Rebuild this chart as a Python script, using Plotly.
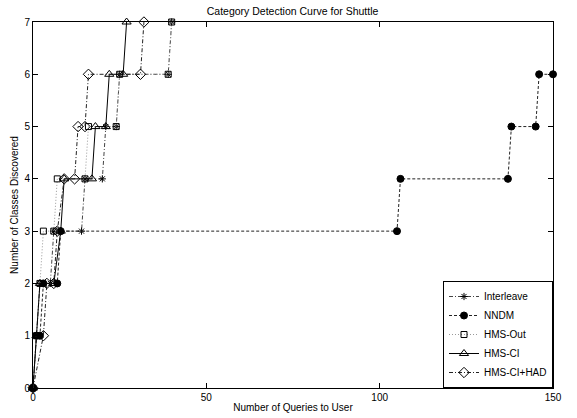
import plotly.graph_objects as go

title = "Category Detection Curve for Shuttle"
x_label = "Number of Queries to User"
y_label = "Number of Classes Discovered"

interleave_x = [0, 1, 2, 5, 6, 14, 15, 20, 21, 24, 25, 39, 40]
interleave_y = [0, 1, 2, 2, 3, 3, 4, 4, 5, 5, 6, 6, 7]

nndm_x = [0, 1, 2, 3, 7, 8, 105, 106, 137, 138, 145, 146, 150]
nndm_y = [0, 1, 1, 2, 2, 3, 3, 4, 4, 5, 5, 6, 6]

hms_out_x = [0, 1, 2, 3, 6, 7, 15, 16, 24, 25, 39, 40]
hms_out_y = [0, 1, 2, 3, 3, 4, 4, 5, 5, 6, 6, 7]

hms_ci_x = [0, 1, 2, 6, 8, 9, 17, 18, 21, 22, 26, 27]
hms_ci_y = [0, 1, 2, 2, 3, 4, 4, 5, 5, 6, 6, 7]

hms_ci_had_x = [0, 3, 4, 6, 7, 9, 12, 13, 15, 16, 31, 32]
hms_ci_had_y = [0, 1, 2, 2, 3, 4, 4, 5, 5, 6, 6, 7]

x_ticks = [0, 50, 100, 150]
y_ticks = [0, 1, 2, 3, 4, 5, 6, 7]

series = [
    ("Interleave", interleave_x, interleave_y, "asterisk-open", "4px,2px,1px,2px", "#444444", 6),
    ("NNDM", nndm_x, nndm_y, "circle", "3px,2px", "#222222", 7),
    ("HMS-Out", hms_out_x, hms_out_y, "square-open", "1px,2px", "#999999", 6),
    ("HMS-CI", hms_ci_x, hms_ci_y, "triangle-up-open", "solid", "black", 8),
    ("HMS-CI+HAD", hms_ci_had_x, hms_ci_had_y, "diamond-open", "4px,2px,1px,2px", "#222222", 8),
]

FONT = "Liberation Sans, Arial"

fig = go.Figure()
for name, xs, ys, sym, dash, lc, ms in series:
    fig.add_trace(go.Scatter(
        x=xs, y=ys, name=name, mode="lines+markers",
        line=dict(color=lc, width=1, dash=dash),
        marker=dict(symbol=sym, size=ms, color="black",
                    line=dict(color="black", width=1)),
        cliponaxis=False,
    ))

axis_common = dict(
    showgrid=False, zeroline=False, showline=True, linecolor="black",
    linewidth=1, mirror="ticks", ticks="inside", ticklen=5,
    tickcolor="black", automargin=False,
    tickfont=dict(family=FONT, size=10, color="black"),
)

fig.update_layout(
    width=577, height=418,
    margin=dict(l=33, r=24, t=22, b=30),
    paper_bgcolor="white", plot_bgcolor="white",
    title=dict(text=title, x=0.507, xanchor="center", y=0.973, yanchor="middle",
               font=dict(family=FONT, size=10.5, color="black")),
    xaxis=dict(range=[0, 150], tickvals=x_ticks,
               title=dict(text=x_label, standoff=1,
                          font=dict(family=FONT, size=10, color="black")),
               **axis_common),
    yaxis=dict(range=[0, 7], tickvals=y_ticks,
               title=dict(text=y_label, standoff=3,
                          font=dict(family=FONT, size=10, color="black")),
               **axis_common),
    legend=dict(x=1, y=0, xanchor="right", yanchor="bottom",
                bgcolor="white", bordercolor="black", borderwidth=1,
                font=dict(family=FONT, size=10, color="black"),
                tracegroupgap=0, itemwidth=30),
    showlegend=True,
)

fig.write_html("out.html", config={"displayModeBar": False},
               post_script="document.body.style.margin='0';")
